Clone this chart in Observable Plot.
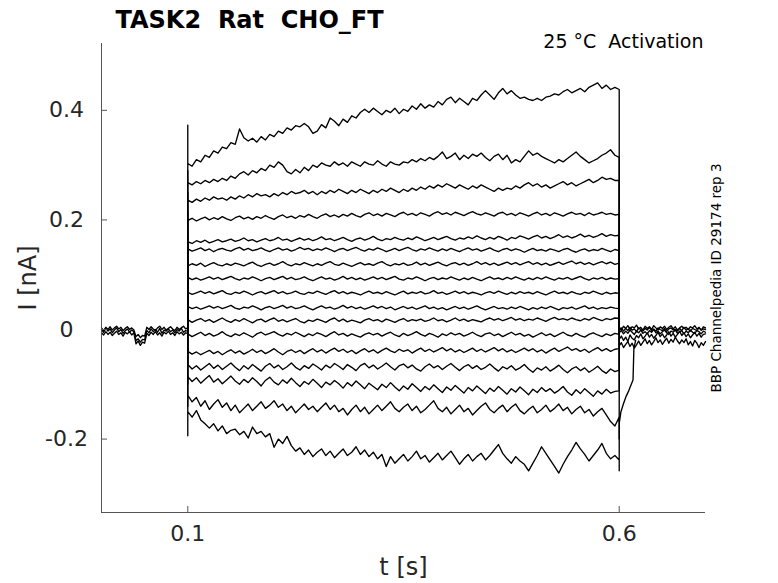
<!DOCTYPE html>
<html><head><meta charset="utf-8">
<script src="https://cdn.jsdelivr.net/npm/d3@7"></script>
<script src="https://cdn.jsdelivr.net/npm/@observablehq/plot@0.6"></script>
<style>body{margin:0;background:#fff} #chart svg{display:block}</style>
</head><body><div id="chart"></div>
<script>
const title = "TASK2  Rat  CHO_FT";
const subtitle = "25 °C  Activation";
const sideNote = "BBP Channelpedia ID 29174 rep 3";
const xLabel = "t [s]";
const yLabel = "I [nA]";
const xTicks = [0.1, 0.6];
const yTicks = [-0.2, 0, 0.2, 0.4];
const xDomain = [0, 0.7];
const yDomain = [-0.334, 0.522];

// voltage step window (s)
const pulseStart = 0.1;
const pulseEnd = 0.6;

// currents during the step, pA, sampled every 5 ms from 0.100 to 0.600 s
const trace01 = [303,298,310,306,318,314,326,322,333,330,341,338,366,350,344,349,342,352,346,356,352,362,358,368,364,372,370,376,370,358,362,374,368,386,380,372,384,378,390,386,396,402,396,404,398,392,400,396,404,394,402,398,408,402,412,404,410,406,416,410,420,424,414,422,416,410,422,418,428,436,428,420,432,440,430,436,428,422,424,420,418,422,418,424,426,430,428,434,438,432,436,440,434,442,446,450,440,446,438,442,438];
const trace02 = [268,264,270,266,272,268,274,270,276,272,280,276,284,288,282,290,286,294,290,300,296,306,300,288,284,292,286,296,290,300,296,304,300,298,306,300,304,298,306,302,298,306,302,300,308,302,298,306,302,300,306,304,310,306,312,308,314,310,316,324,312,316,322,310,318,312,320,316,322,314,308,316,320,310,318,304,310,306,316,326,318,322,316,312,308,304,310,306,312,318,324,316,310,304,308,312,318,322,328,318,314];
const trace03 = [236,232,238,234,240,236,242,238,240,236,242,238,244,240,246,242,248,244,246,242,248,244,250,246,252,248,250,254,248,252,246,252,248,254,250,256,252,248,254,250,256,252,248,254,250,256,252,258,254,250,256,252,258,254,260,256,262,258,264,260,266,262,258,264,260,256,262,258,264,260,256,252,258,254,258,256,262,258,264,268,262,266,260,264,258,262,266,270,264,268,262,266,270,274,268,272,278,274,276,272,272];
const trace04 = [199,203,198,202,205,200,204,201,206,202,199,204,207,202,205,201,206,203,208,204,201,206,209,204,207,203,208,205,210,206,203,208,211,206,209,205,210,207,212,208,205,210,213,208,211,207,212,209,206,211,214,209,212,208,213,210,207,212,215,210,213,209,214,211,208,212,215,211,209,213,210,207,212,214,209,212,208,213,210,207,211,214,209,212,208,213,210,207,211,214,210,212,208,213,209,211,214,210,212,209,210];
const trace05 = [160,157,162,159,163,158,161,164,160,162,165,161,163,167,162,164,160,163,166,162,164,168,163,165,161,164,167,163,166,162,165,169,164,166,162,165,168,164,161,165,167,163,166,170,165,162,166,164,168,165,163,167,164,169,166,162,165,168,164,167,170,166,163,167,165,169,166,171,167,164,168,165,170,167,163,168,166,171,168,165,169,172,167,170,166,169,173,168,171,167,170,174,169,172,168,171,175,170,173,171,172];
const trace06 = [147,143,146,149,144,147,142,146,148,145,143,147,150,145,148,144,146,149,145,142,146,149,145,147,143,146,150,146,148,144,147,145,149,146,142,146,148,144,147,150,146,143,147,145,149,146,142,145,148,144,147,150,146,143,147,145,149,146,143,147,144,148,145,142,146,149,145,147,143,146,149,145,142,146,148,144,147,145,141,145,148,144,146,143,147,145,142,146,148,144,141,145,147,143,146,144,148,145,142,146,144];
const trace07 = [116,120,117,121,115,119,122,118,116,120,117,121,119,116,120,123,118,115,119,121,117,120,124,119,116,120,118,122,119,116,120,117,121,124,119,117,121,118,115,119,122,118,120,117,121,124,119,116,120,118,121,117,119,123,118,121,117,120,123,119,116,120,122,118,121,117,120,124,119,122,118,121,117,120,123,119,122,118,121,124,119,122,118,121,117,120,123,119,122,125,120,123,119,122,118,121,124,120,123,119,121];
const trace08 = [95,91,94,90,93,96,92,95,91,94,97,93,90,94,92,96,93,89,93,95,91,94,97,92,95,91,93,96,92,89,93,96,92,94,90,93,97,92,95,91,94,90,93,96,92,95,91,94,97,92,90,94,92,96,93,89,93,95,91,94,92,96,93,90,94,91,95,92,89,93,96,92,94,91,95,92,96,93,90,94,91,95,92,96,93,90,94,92,95,91,94,97,93,90,94,92,95,91,94,92,93];
const trace09 = [68,64,67,70,66,69,65,68,71,66,64,68,66,70,67,63,67,69,65,68,71,66,69,65,67,70,66,64,68,66,70,67,64,68,71,66,69,65,68,66,63,67,70,66,68,65,69,66,63,67,70,65,68,66,69,65,67,71,66,68,64,67,70,66,69,65,68,66,63,67,69,66,70,67,64,68,65,69,66,68,65,69,66,63,67,70,66,68,65,69,66,64,68,66,70,67,64,68,65,67,66];
const trace10 = [42,38,41,37,40,43,39,42,38,41,44,39,37,41,39,43,40,36,40,42,38,41,44,39,42,38,40,43,39,36,40,43,39,41,37,40,44,39,42,38,41,37,40,43,39,42,38,41,36,39,42,38,41,37,40,43,38,41,37,40,36,39,42,38,41,37,40,43,39,36,39,42,38,40,37,41,38,42,39,36,40,37,41,38,42,39,36,40,38,41,37,40,43,38,41,37,40,38,41,39,38];
const trace11 = [18,13,17,20,15,18,13,17,21,16,13,18,15,20,16,12,17,19,14,18,21,15,18,14,17,20,15,12,17,15,19,16,13,18,21,15,19,14,17,15,12,17,20,16,18,14,19,16,13,17,20,15,18,16,19,15,17,21,16,18,14,17,21,16,19,15,18,16,14,18,21,17,20,16,19,22,17,20,16,19,17,21,18,15,19,22,18,20,17,21,18,16,20,17,22,19,16,20,18,21,20];
const trace12 = [-8,-13,-9,-5,-11,-7,-12,-9,-4,-10,-13,-8,-11,-6,-10,-14,-8,-5,-10,-7,-4,-9,-12,-7,-10,-5,-9,-13,-8,-11,-6,-9,-13,-8,-4,-10,-7,-12,-8,-11,-14,-9,-6,-10,-7,-12,-8,-5,-10,-13,-7,-11,-8,-4,-9,-12,-7,-10,-14,-8,-11,-6,-10,-7,-12,-9,-5,-10,-13,-8,-6,-11,-8,-13,-9,-5,-10,-7,-12,-9,-14,-10,-6,-11,-8,-13,-9,-5,-10,-12,-7,-11,-14,-9,-6,-10,-13,-8,-11,-7,-9];
const trace13 = [-40,-45,-41,-46,-42,-38,-44,-40,-46,-41,-37,-43,-39,-45,-41,-36,-42,-38,-44,-40,-35,-41,-46,-40,-37,-42,-38,-44,-39,-35,-41,-37,-43,-38,-34,-40,-36,-42,-38,-44,-39,-35,-41,-37,-43,-38,-34,-39,-42,-36,-40,-37,-43,-38,-34,-40,-36,-41,-37,-33,-39,-35,-41,-37,-42,-38,-34,-40,-36,-41,-37,-33,-39,-35,-41,-37,-42,-38,-34,-39,-35,-41,-37,-43,-38,-34,-40,-36,-32,-38,-35,-40,-36,-42,-37,-33,-39,-35,-40,-36,-35];
const trace14 = [-64,-72,-66,-74,-68,-62,-71,-65,-73,-67,-61,-69,-75,-66,-72,-64,-70,-76,-67,-62,-70,-65,-73,-68,-61,-69,-74,-66,-71,-63,-68,-74,-65,-70,-62,-67,-73,-64,-69,-75,-66,-62,-70,-65,-72,-67,-61,-68,-74,-66,-63,-70,-65,-72,-76,-68,-63,-70,-66,-73,-67,-62,-69,-75,-68,-64,-71,-66,-73,-69,-63,-70,-76,-68,-72,-66,-74,-70,-64,-72,-78,-70,-74,-68,-76,-71,-65,-73,-79,-72,-68,-75,-70,-78,-73,-67,-75,-80,-72,-77,-74];
const trace15 = [-86,-95,-88,-98,-91,-84,-96,-90,-99,-92,-85,-94,-100,-91,-97,-88,-95,-103,-93,-87,-96,-101,-92,-98,-89,-97,-104,-95,-100,-91,-98,-106,-96,-101,-93,-99,-107,-97,-103,-94,-101,-108,-98,-104,-110,-100,-106,-97,-105,-112,-103,-109,-99,-106,-113,-104,-110,-101,-108,-115,-105,-111,-102,-109,-116,-106,-112,-103,-110,-117,-107,-113,-104,-111,-118,-108,-114,-105,-112,-119,-109,-115,-106,-113,-108,-116,-111,-104,-114,-120,-110,-117,-108,-115,-122,-112,-118,-109,-116,-113,-112];
const trace16 = [-120,-132,-124,-140,-130,-146,-136,-128,-142,-134,-148,-138,-152,-144,-136,-148,-140,-132,-144,-138,-130,-142,-136,-148,-140,-152,-144,-136,-146,-140,-150,-142,-134,-146,-138,-150,-144,-156,-146,-138,-150,-142,-154,-146,-138,-148,-140,-132,-144,-150,-142,-136,-148,-140,-152,-146,-138,-130,-144,-150,-142,-154,-146,-138,-150,-144,-156,-148,-140,-134,-146,-152,-144,-138,-150,-142,-136,-148,-154,-146,-140,-152,-146,-138,-150,-144,-136,-148,-142,-154,-146,-140,-152,-146,-158,-150,-144,-156,-168,-176,-160];
const trace17 = [-150,-160,-148,-165,-172,-180,-172,-185,-176,-190,-184,-182,-192,-186,-198,-178,-190,-186,-196,-190,-215,-200,-208,-195,-212,-222,-216,-228,-220,-232,-224,-218,-230,-222,-234,-226,-218,-230,-224,-214,-228,-220,-232,-224,-236,-228,-250,-232,-244,-236,-228,-240,-232,-222,-236,-230,-242,-234,-226,-238,-230,-222,-234,-246,-236,-228,-240,-232,-226,-238,-230,-220,-210,-226,-236,-244,-232,-240,-246,-258,-244,-230,-214,-226,-238,-250,-262,-246,-232,-220,-206,-218,-228,-240,-230,-220,-208,-226,-236,-230,-238];

// capacitive transients at step onset / offset (pA)
const onsetPeak = [373,290,250,215,175,155,128,102,76,50,26,0,-30,-60,-100,-140,-194];
const offsetPeak = [438,314,272,210,172,144,121,93,66,38,20,-9,-35,-74,-112,-200,-258];

// slow recovery of one sweep after the step (s, pA)
const recoveryT = [0.600,0.602,0.605,0.608,0.611,0.614,0.616,0.617,0.619];
const recoveryI = [-172,-150,-135,-122,-112,-100,-92,-35,-20];

// baseline before the step, pA, every 2.5 ms from 0 to 0.1 s
const preStep = 0.0025;
const preA = [3,-2,4,0,5,-1,3,6,1,4,-2,2,5,0,3,-1,-13,-9,-15,-11,-12,4,0,5,1,-2,3,6,0,4,-1,2,5,1,-2,4,0,3,6,1,3];
const preB = [-6,-10,-4,-9,-5,-11,-7,-3,-9,-6,-12,-5,-8,-4,-10,-6,-26,-21,-29,-23,-25,-7,-11,-5,-9,-4,-10,-6,-12,-5,-8,-3,-9,-6,-11,-4,-8,-5,-10,-6,-7];
const preC = [0,-5,2,-3,1,-6,-1,3,-4,0,-7,-2,1,-5,-1,-4,-20,-17,-23,-18,-19,-2,-6,1,-4,0,-5,2,-7,-1,-3,1,-4,-1,-6,0,-3,2,-5,-2,-3];

// tails after the step, pA, every 2.5 ms from 0.6 to 0.7 s
const postStep = 0.0025;
const postA = [4,-1,6,2,7,0,5,3,8,1,4,-1,6,2,5,0,7,3,-1,5,2,6,0,4,7,1,5,-1,3,6,2,4,0,5,3,7,1,4,-1,5,3];
const postB = [-6,-2,-8,-3,-7,-1,-5,-9,-3,-6,-1,-7,-4,-8,-2,-5,0,-6,-3,-8,-4,-1,-6,-9,-3,-5,-1,-7,-4,-2,-8,-3,-6,-1,-5,-7,-2,-4,-8,-3,-5];
const postC = [-18,-12,-20,-14,-22,-10,-16,-19,-11,-15,-8,-17,-12,-6,-14,-9,-16,-11,-5,-13,-8,-15,-10,-4,-12,-7,-14,-9,-3,-11,-6,-13,-8,-15,-10,-5,-12,-7,-14,-9,-8];
const postD = [-30,-24,-33,-27,-22,-31,-25,-34,-28,-21,-29,-23,-17,-26,-20,-28,-22,-15,-24,-19,-27,-21,-16,-25,-18,-23,-14,-21,-26,-19,-24,-17,-28,-22,-30,-20,-25,-33,-24,-29,-22];
const postE = [0,3,-3,2,-2,4,-1,1,-4,3,0,-3,2,-1,4,-2,1,-3,3,0,-2,2,-4,1,3,-1,0,-3,2,-2,4,-1,1,-3,2,0,-2,3,-1,1,0];

// ---- build rows (pA -> nA) ----
const traces = [trace01,trace02,trace03,trace04,trace05,trace06,trace07,trace08,trace09,trace10,trace11,trace12,trace13,trace14,trace15,trace16,trace17];
const rows = [];
traces.forEach((vals, k) => {
  const s = "sweep" + (k + 1);
  rows.push({s, t: pulseStart, i: 0});
  rows.push({s, t: pulseStart, i: onsetPeak[k] / 1000});
  const n = vals.length;
  vals.forEach((v, j) => rows.push({s, t: pulseStart + j * (pulseEnd - pulseStart) / (n - 1), i: v / 1000}));
  rows.push({s, t: pulseEnd, i: offsetPeak[k] / 1000});
  if (k === 15) recoveryT.forEach((t, j) => rows.push({s, t, i: recoveryI[j] / 1000}));
  else rows.push({s, t: pulseEnd, i: 0});
});
[preA, preB, preC].forEach((arr, k) => arr.forEach((v, j) => rows.push({s: "pre" + k, t: j * preStep, i: v / 1000})));
[postA, postB, postC, postD, postE].forEach((arr, k) => arr.forEach((v, j) => rows.push({s: "post" + k, t: pulseEnd + j * postStep, i: v / 1000})));

const W = 778, H = 583, mL = 101, mR = 73, mT = 43, mB = 71;
const tickPx = 6;
const tickLenX = tickPx * (xDomain[1] - xDomain[0]) / (W - mL - mR);
const tickLenY = tickPx * (yDomain[1] - yDomain[0]) / (H - mT - mB);
const axisColor = "#555";
const textColor = "#262626";

const chart = Plot.plot({
  width: W, height: H,
  marginLeft: mL, marginRight: mR, marginTop: mT, marginBottom: mB,
  x: {domain: xDomain, axis: null},
  y: {domain: yDomain, axis: null},
  style: {fontFamily: "DejaVu Sans", background: "#fff", overflow: "visible"},
  marks: [
    Plot.line(rows, {x: "t", y: "i", z: "s", stroke: "#000", strokeWidth: 1.35}),
    Plot.ruleX([xDomain[0]], {y1: yDomain[0], y2: yDomain[1], stroke: axisColor}),
    Plot.ruleY([yDomain[0]], {x1: xDomain[0], x2: xDomain[1], stroke: axisColor}),
    Plot.ruleY(yTicks, {y: d => d, x1: xDomain[0], x2: xDomain[0] + tickLenX, stroke: axisColor}),
    Plot.ruleX(xTicks, {x: d => d, y1: yDomain[0], y2: yDomain[0] + tickLenY, stroke: axisColor}),
    Plot.text(yTicks, {y: d => d, text: d => String(d), frameAnchor: "left", dx: -35, textAnchor: "middle", fontSize: 22, fill: textColor}),
    Plot.text(xTicks, {x: d => d, text: d => String(d), frameAnchor: "bottom", dy: 21, lineAnchor: "middle", fontSize: 22, fill: textColor}),
    Plot.text([xLabel], {text: d => d, frameAnchor: "bottom", dy: 55, lineAnchor: "middle", fontSize: 24, fill: textColor}),
    Plot.text([yLabel], {text: d => d, frameAnchor: "left", dx: -73, rotate: -90, textAnchor: "middle", lineAnchor: "middle", fontSize: 24, fill: textColor}),
    Plot.text([title], {text: d => d, frameAnchor: "top-left", dx: 14, dy: -16, textAnchor: "start", lineAnchor: "bottom", fontSize: 24, fontWeight: "bold", fill: "#000"}),
    Plot.text([subtitle], {text: d => d, frameAnchor: "top-right", dx: -2, dy: 4, textAnchor: "end", lineAnchor: "bottom", fontSize: 19, fill: "#000"}),
    Plot.text([sideNote], {text: d => d, frameAnchor: "right", dx: 11, rotate: -90, textAnchor: "middle", lineAnchor: "middle", fontSize: 13.5, fill: "#000"})
  ]
});
document.getElementById("chart").appendChild(chart);
</script>
</body></html>
